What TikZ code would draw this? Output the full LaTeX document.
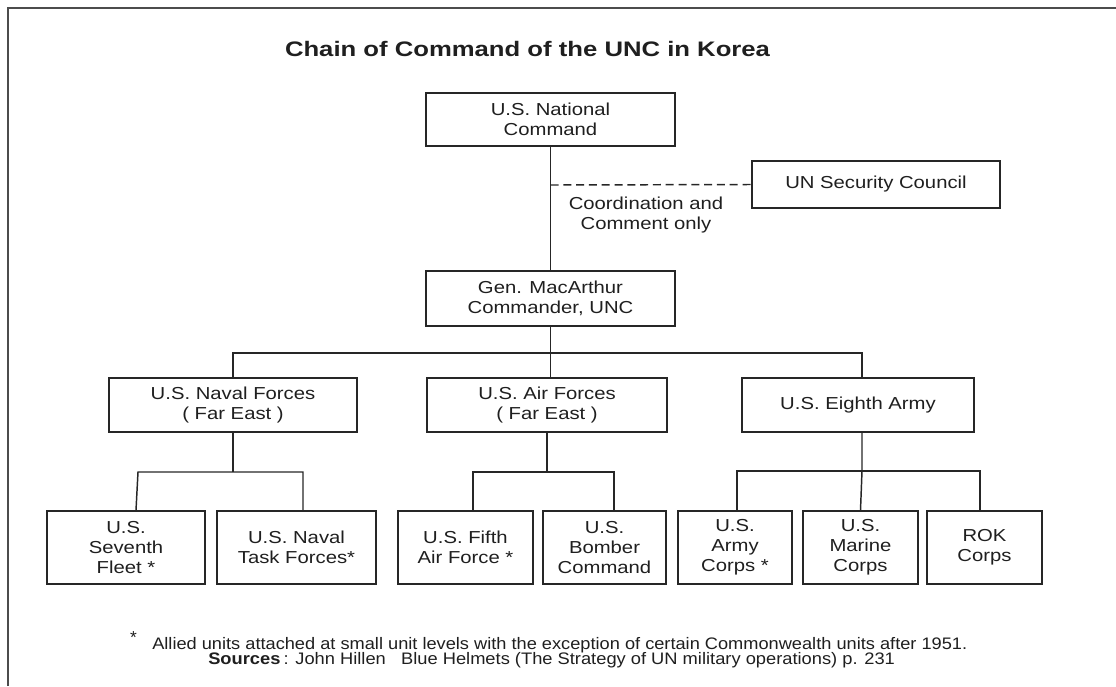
\documentclass[tikz,border=0pt]{standalone}
\usepackage{fontspec}
\usepackage{graphicx}
\setmainfont{Liberation Sans}
\newfontfamily\boxfont[FakeStretch=1.17]{Liberation Sans}
\begin{document}
\begin{tikzpicture}[x=0.75pt,y=-0.75pt,
  unit/.style={draw=black!85, line width=1.2pt, fill=white, inner sep=0pt, align=center,
    font=\boxfont\fontsize{13}{15}\selectfont, text=black!88},
  wh/.style 2 args={minimum width=#1*0.75pt, minimum height=#2*0.75pt},
  link/.style={draw=black!85, line width=1.1pt},
  note/.style={inner sep=0pt, text=black!88},
]
\useasboundingbox (0,0) rectangle (1116,686);
% frame (top and left edges)
\draw[line width=1.5pt, black!70] (8,686) -- (8,8) -- (1116,8);

% title
\node[note, anchor=base] (title) at (527.5,56)
  {\fontsize{15.75}{18}\selectfont\bfseries\resizebox{363.75pt}{\height}{Chain of Command of the UNC in Korea}};

% boxes
\node[unit, wh={249}{53}] (nat) at (550.5,119.5) {U.S. National\\Command};
\node[unit, wh={248}{47}] (unsc) at (876,184.5) {UN Security Council};
\node[unit, wh={249}{55}] (mac) at (550.5,298.5) {Gen. MacArthur\\Commander, UNC};

\node[unit, wh={248}{54}] (naval) at (233,405) {U.S. Naval Forces\\( Far East )};
\node[unit, wh={240}{54}] (air) at (547,405) {U.S. Air Forces\\( Far East )};
\node[unit, wh={232}{54}] (eighth) at (858,405) {U.S. Eighth Army};

\node[unit, wh={158}{73}] (seventh) at (126,547.5) {U.S.\\Seventh\\Fleet *};
\node[unit, wh={159}{73}] (ntf) at (296.5,547.5) {U.S. Naval\\Task Forces*};
\node[unit, wh={135}{73}] (fifth) at (465.5,547.5) {U.S. Fifth\\Air Force *};
\node[unit, wh={123}{73}] (bomber) at (604.5,547.5) {U.S.\\Bomber\\Command};
\node[unit, wh={114}{73}] (army) at (735,547.5) {U.S.\\Army\\Corps *};
\node[unit, wh={115}{73}] (marine) at (860.5,547.5) {U.S.\\Marine\\Corps};
\node[unit, wh={115}{73}] (rok) at (984.5,547.5) {ROK\\Corps};

% coordination label
\node[note, align=center, font=\boxfont\fontsize{13}{15}\selectfont] (coord) at (646,215)
  {Coordination and\\Comment only};

% connectors
\coordinate (dj) at (550.5,185);
\draw[link] (nat.south) -- (mac.north);
\draw[link, dash pattern=on 6pt off 3.6pt] (dj) -- (unsc.west);

\coordinate (t1) at (233,353);
\coordinate (t2) at (862,353);
\draw[link] (mac.south) -- (mac.south |- air.north);
\draw[link] (naval.north) -- (t1) -- (t2) -- (eighth.north -| t2);

\coordinate (n1) at (138,472);
\coordinate (n2) at (303,472);
\draw[link] (naval.south) -- (naval.south |- n1);
\draw[link] ([xshift=7.5pt]seventh.north) -- (n1) -- (n2) -- (ntf.north -| n2);

\coordinate (a1) at (473,472);
\coordinate (a2) at (614,472);
\draw[link] (air.south) -- (air.south |- a1);
\draw[link] (fifth.north -| a1) -- (a1) -- (a2) -- (bomber.north -| a2);

\coordinate (e1) at (737,471);
\coordinate (em) at (862,471);
\coordinate (e2) at (980,471);
\draw[link] (eighth.south -| em) -- (em) -- (marine.north);
\draw[link] (army.north -| e1) -- (e1) -- (e2) -- (rok.north -| e2);

% footnote
\node[note, anchor=base] (star) at (133.5,643) {\fontsize{13}{14}\selectfont *};
\node[note, anchor=base west] (fn1) at (152,649)
  {\resizebox{611.25pt}{\height}{\fontsize{12.5}{14}\selectfont Allied units attached at small unit levels with the exception of certain Commonwealth units after 1951.}};
\node[note, anchor=base west] (fn2) at (208,664)
  {\resizebox{515pt}{\height}{\fontsize{12.5}{14}\selectfont \textbf{Sources}\,: John Hillen\ \ \ Blue Helmets (The Strategy of UN military operations) p. 231}};
\end{tikzpicture}
\end{document}
